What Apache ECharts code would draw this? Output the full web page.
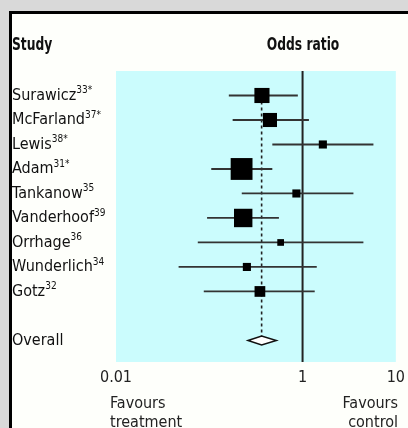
<!DOCTYPE html>
<html><head><meta charset="utf-8">
<script src="https://cdn.jsdelivr.net/npm/echarts@6/dist/echarts.min.js"></script>
<style>html,body{margin:0;padding:0;background:#d9d9d9;}#c{width:408px;height:428px;}</style>
</head><body><div id="c"></div>
<script>
var studies = ['Surawicz', 'McFarland', 'Lewis', 'Adam', 'Tankanow', 'Vanderhoof', 'Orrhage', 'Wunderlich', 'Gotz'];
var refs = ['33*', '37*', '38*', '31*', '35', '39', '36', '34', '32'];
var oddsRatio = [0.367, 0.447, 1.65, 0.222, 0.859, 0.231, 0.582, 0.253, 0.349];
var ciLow = [0.162, 0.178, 0.474, 0.105, 0.223, 0.0947, 0.0753, 0.0469, 0.0873];
var ciHigh = [0.89, 1.17, 5.75, 0.474, 3.51, 0.558, 4.49, 1.42, 1.35];
var weights = [14.3, 12.4, 4.1, 29.8, 4.1, 21.2, 2.8, 4.1, 7.2];
var overallLabel = 'Overall';
var overallOR = 0.364, overallLow = 0.26, overallHigh = 0.523;
var xTicks = ['0.01', '1', '10'];

var FONT = '"Liberation Sans Narrow","DejaVu Sans Condensed","Roboto Condensed",sans-serif';
var chart = echarts.init(document.getElementById('c'), null, {renderer: 'canvas'});
var overallRow = studies.length + 1;

var studyData = studies.map(function (s, i) { return [ciLow[i], ciHigh[i], oddsRatio[i], i, weights[i]]; });

chart.setOption({
  animation: false,
  backgroundColor: '#d9d9d9',
  graphic: [
    {type: 'rect', z: -10, shape: {x: 10.5, y: 12.5, width: 430, height: 440}, style: {fill: '#fefffb', stroke: '#000', lineWidth: 3}},
    {type: 'text', x: 12, y: 45, scaleX: 0.76, style: {text: 'Study', font: 'bold 18px ' + FONT, fill: '#111', textVerticalAlign: 'middle'}},
    {type: 'text', x: 303, y: 45, scaleX: 0.76, style: {text: 'Odds ratio', font: 'bold 18px ' + FONT, fill: '#111', textAlign: 'center', textVerticalAlign: 'middle'}},
    {type: 'text', x: 110, y: 394, style: {text: 'Favours\ntreatment', font: '16px ' + FONT, fill: '#222', lineHeight: 19, textAlign: 'left'}},
    {type: 'text', x: 398, y: 394, style: {text: 'Favours\ncontrol', font: '16px ' + FONT, fill: '#222', lineHeight: 19, textAlign: 'right'}}
  ],
  grid: {left: 116, top: 71, width: 281, height: 291, show: true, backgroundColor: '#cbfcfd', borderWidth: 0},
  xAxis: {
    type: 'log', logBase: 10, min: 0.01, max: 10,
    axisLine: {show: false}, axisTick: {show: false}, splitLine: {show: false},
    axisLabel: {
      margin: 8, fontSize: 16, fontFamily: FONT, color: '#222',
      formatter: function (v) { var s = String(+v.toPrecision(3)); return xTicks.indexOf(s) >= 0 ? s : ''; }
    }
  },
  yAxis: {
    type: 'value', inverse: true, min: -1, max: 10.88, interval: 1,
    axisLine: {show: false}, axisTick: {show: false}, splitLine: {show: false},
    axisLabel: {
      showMaxLabel: false, showMinLabel: false,
      align: 'left', margin: 104,
      formatter: function (v) {
        if (v >= 0 && v < studies.length) return '{n|' + studies[v] + '}{s|' + refs[v] + '}';
        if (v === overallRow) return '{n|' + overallLabel + '}';
        return '';
      },
      rich: {
        n: {fontSize: 16, fontFamily: FONT, color: '#111'},
        s: {fontSize: 10, fontFamily: FONT, color: '#111', padding: [0, 0, 10, 0]}
      }
    }
  },
  series: [
    {type: 'line', data: [[1, -1], [1, 10.88]], symbol: 'none', lineStyle: {color: '#222', width: 2}, z: 1, silent: true},
    {type: 'line', data: [[overallOR, 0], [overallOR, overallRow]], symbol: 'none', lineStyle: {color: '#222', width: 1.6, type: [3, 3]}, z: 2, silent: true},
    {
      type: 'custom', z: 5, data: studyData,
      renderItem: function (params, api) {
        var y = api.value(3);
        var a = api.coord([api.value(0), y]);
        var b = api.coord([api.value(1), y]);
        var c = api.coord([api.value(2), y]);
        var s = 4 * Math.sqrt(api.value(4));
        return {type: 'group', children: [
          {type: 'line', shape: {x1: a[0], y1: a[1], x2: b[0], y2: b[1]}, style: {stroke: '#333', lineWidth: 1.8}},
          {type: 'rect', shape: {x: c[0] - s / 2, y: c[1] - s / 2, width: s, height: s}, style: {fill: '#000'}}
        ]};
      }
    },
    {
      type: 'custom', z: 6, data: [[overallLow, overallHigh, overallOR, overallRow]],
      renderItem: function (params, api) {
        var y = api.value(3);
        var a = api.coord([api.value(0), y]);
        var b = api.coord([api.value(1), y]);
        var c = api.coord([api.value(2), y]);
        return {type: 'polygon', shape: {points: [[a[0], a[1]], [c[0], c[1] - 4.5], [b[0], b[1]], [c[0], c[1] + 4.5]]},
          style: {fill: '#fff', stroke: '#111', lineWidth: 1.5}};
      }
    }
  ]
});
</script></body></html>
